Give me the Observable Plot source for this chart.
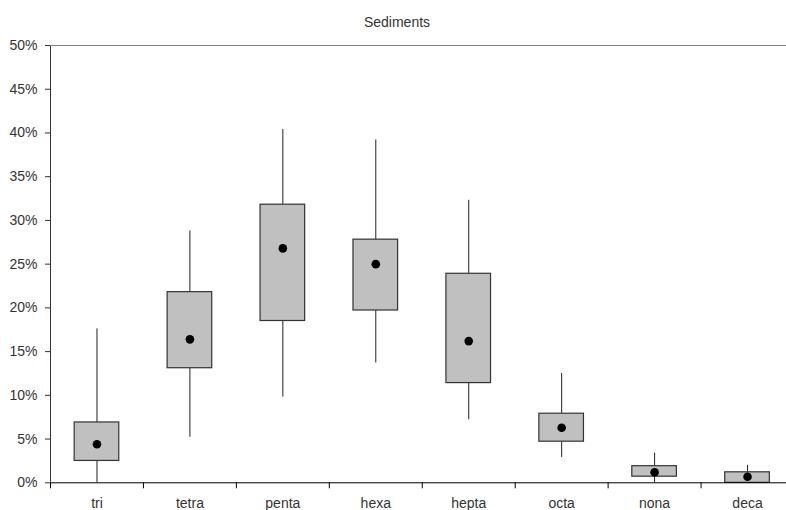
<!DOCTYPE html>
<html>
<head>
<meta charset="utf-8">
<script src="https://cdn.jsdelivr.net/npm/d3@7"></script>
<script src="https://cdn.jsdelivr.net/npm/@observablehq/plot@0.6"></script>
<style>
  html, body { margin: 0; padding: 0; background: #fff; overflow: hidden; }
  #title { box-sizing: content-box; height: 16px; padding-top: 14px; padding-left: 8px; width: 778px;
           line-height: 14px; text-align: center; font: 14px "Liberation Sans", Arial, sans-serif; color: #333; }
  #chart svg { display: block; }
</style>
</head>
<body>
<div id="title">Sediments</div>
<div id="chart"></div>
<script>
const categories  = ["tri", "tetra", "penta", "hexa", "hepta", "octa", "nona", "deca"];
const whiskerLow  = [0.000, 0.052, 0.098, 0.137, 0.072, 0.029, 0.000, 0.000];
const q1          = [0.025, 0.131, 0.185, 0.197, 0.114, 0.047, 0.007, 0.000];
const q3          = [0.069, 0.218, 0.318, 0.278, 0.239, 0.079, 0.019, 0.012];
const whiskerHigh = [0.176, 0.288, 0.404, 0.392, 0.323, 0.125, 0.034, 0.020];
const means       = [0.044, 0.164, 0.268, 0.250, 0.162, 0.063, 0.012, 0.007];
const yTicks      = [0, 0.05, 0.10, 0.15, 0.20, 0.25, 0.30, 0.35, 0.40, 0.45, 0.50];

const data = categories.map((c, i) => ({
  cat: c, lo: whiskerLow[i], q1: q1[i], q3: q3[i], hi: whiskerHigh[i], mean: means[i]
}));

const xRange = [50, 793.5];
const step = (xRange[1] - xRange[0]) / categories.length;

const chart = Plot.plot({
  width: 786,
  height: 480,
  marginTop: 15,
  marginBottom: 27.7,
  marginLeft: 50,
  marginRight: 0,
  style: { fontFamily: '"Liberation Sans", Arial, sans-serif', fontSize: "14px", color: "#333", background: "#fff", overflow: "visible" },
  x: {
    domain: categories, range: xRange, paddingInner: 0.52, paddingOuter: 0.26, round: false,
    tickSize: 0, tickPadding: 15, label: null
  },
  y: {
    domain: [0, 0.5], ticks: yTicks, tickFormat: d3.format(".0%"),
    tickSize: 5, tickPadding: 8, line: true, label: null
  },
  marks: [
    Plot.ruleY([0.5], { stroke: "#808080" }),
    Plot.ruleX(data, { x: "cat", y1: "lo", y2: "q1", stroke: "#222" }),
    Plot.ruleX(data, { x: "cat", y1: "q3", y2: "hi", stroke: "#222" }),
    Plot.barY(data, { x: "cat", y1: "q1", y2: "q3", fill: "#c0c0c0", stroke: "#333", strokeWidth: 1.2 }),
    Plot.dot(data, { x: "cat", y: "mean", r: 4.3, fill: "#000", stroke: "none" }),
    Plot.ruleY([0], { stroke: "#000" }),
    Plot.ruleX(categories, { x: d => d, y1: () => 0, y2: () => 0, insetBottom: -6, dx: -step / 2, stroke: "#000" })
  ]
});
document.getElementById("chart").appendChild(chart);
</script>
</body>
</html>
